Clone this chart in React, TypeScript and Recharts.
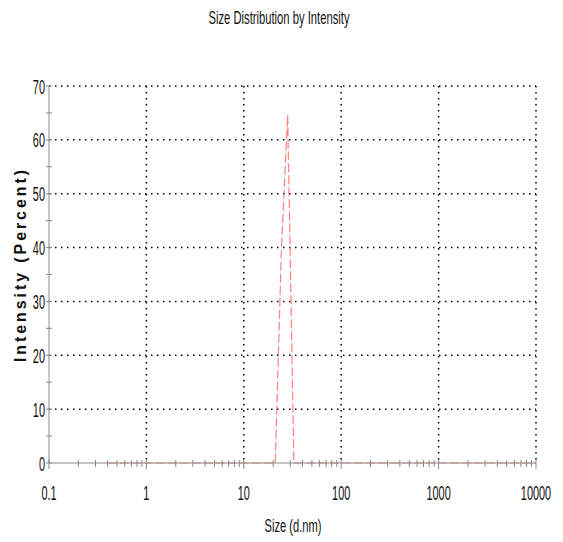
import { LineChart, Line, XAxis, YAxis, CartesianGrid, Customized } from "recharts";

// Size (d.nm) and intensity (%)
const sizes = [0.4, 21.04, 24.36, 28.21, 32.67, 10000];
const intensity = [0, 0, 40, 64.6, 0, 0];

const xMajor = [0.1, 1, 10, 100, 1000, 10000];
const minorSteps = [2, 3, 4, 5, 6, 7, 8, 9];
const decades = [0.1, 1, 10, 100, 1000];
const yTicks = [0, 5, 10, 15, 20, 25, 30, 35, 40, 45, 50, 55, 60, 65, 70];
const yGrid = [10, 20, 30, 40, 50, 60, 70];
const xGrid = [1, 10, 100, 1000, 10000];

const xTicks = [
  ...xMajor,
  ...decades.flatMap((d) => minorSteps.map((m) => +(m * d).toPrecision(3))),
].sort((a, b) => a - b);

const data = sizes.map((s, i) => ({ size: s, intensity: intensity[i] }));

const FONT = "'Liberation Sans', Arial, sans-serif";
const AXIS = "#8a8a8a";

function XTick(props: any) {
  const { x, y, payload } = props;
  const v = payload.value;
  const major = xMajor.includes(v);
  return (
    <g>
      <line x1={x} x2={x} y1={y - (major ? 4 : 3)} y2={y + (major ? 6 : 4)} stroke={AXIS} />
      {major && (
        <text
          transform={`translate(${x},${y + 37}) scale(0.52,1)`}
          textAnchor="middle"
          fontSize={21}
          fontFamily={FONT}
          fill="#111"
        >
          {String(v)}
        </text>
      )}
    </g>
  );
}

function YTick(props: any) {
  const { x, y, payload } = props;
  const v = payload.value;
  const major = v % 10 === 0;
  return (
    <g>
      <line x1={x - 3} x2={x + 3} y1={y} y2={y} stroke={AXIS} />
      {major && (
        <text
          transform={`translate(${x - 4},${y + 7.5}) scale(0.52,1)`}
          textAnchor="end"
          fontSize={21}
          fontFamily={FONT}
          fill="#111"
        >
          {String(v)}
        </text>
      )}
    </g>
  );
}

function Texts() {
  return (
    <g fontFamily={FONT} fill="#111">
      <text x={279} y={24} textAnchor="middle" fontSize={19} textLength={141} lengthAdjust="spacingAndGlyphs">
        Size Distribution by Intensity
      </text>
      <text x={293} y={532} textAnchor="middle" fontSize={19} textLength={57} lengthAdjust="spacingAndGlyphs">
        Size (d.nm)
      </text>
      <text
        transform="translate(26,266) rotate(-90)"
        textAnchor="middle"
        fontSize={16}
        fontWeight="bold"
        textLength={192}
        lengthAdjust="spacing"
      >
        Intensity (Percent)
      </text>
    </g>
  );
}

export default function App() {
  return (
    <div style={{ position: "absolute", left: 0, top: 0, background: "#fff" }}>
      <LineChart width={563} height={542} data={data} margin={{ top: 86, right: 27, bottom: 39, left: 0 }}>
        <CartesianGrid
          stroke="#000"
          strokeDasharray="1.5 4.5"
          strokeWidth={1.5}
          horizontalValues={yGrid}
          verticalValues={xGrid}
        />
        <XAxis
          dataKey="size"
          type="number"
          scale="log"
          domain={[0.1, 10000]}
          allowDataOverflow
          ticks={xTicks}
          interval={0}
          tickSize={0}
          tickMargin={0}
          tickLine={false}
          tick={<XTick />}
          axisLine={{ stroke: AXIS }}
          height={40}
        />
        <YAxis
          type="number"
          domain={[0, 70]}
          ticks={yTicks}
          interval={0}
          width={49}
          tickSize={0}
          tickMargin={0}
          tickLine={false}
          tick={<YTick />}
          axisLine={{ stroke: AXIS }}
        />
        <Line
          type="linear"
          dataKey="intensity"
          stroke="#ff4a4a"
          strokeOpacity={0.7}
          strokeWidth={1.2}
          strokeDasharray="9 3"
          dot={false}
          isAnimationActive={false}
        />
        <Customized component={Texts} />
      </LineChart>
    </div>
  );
}
